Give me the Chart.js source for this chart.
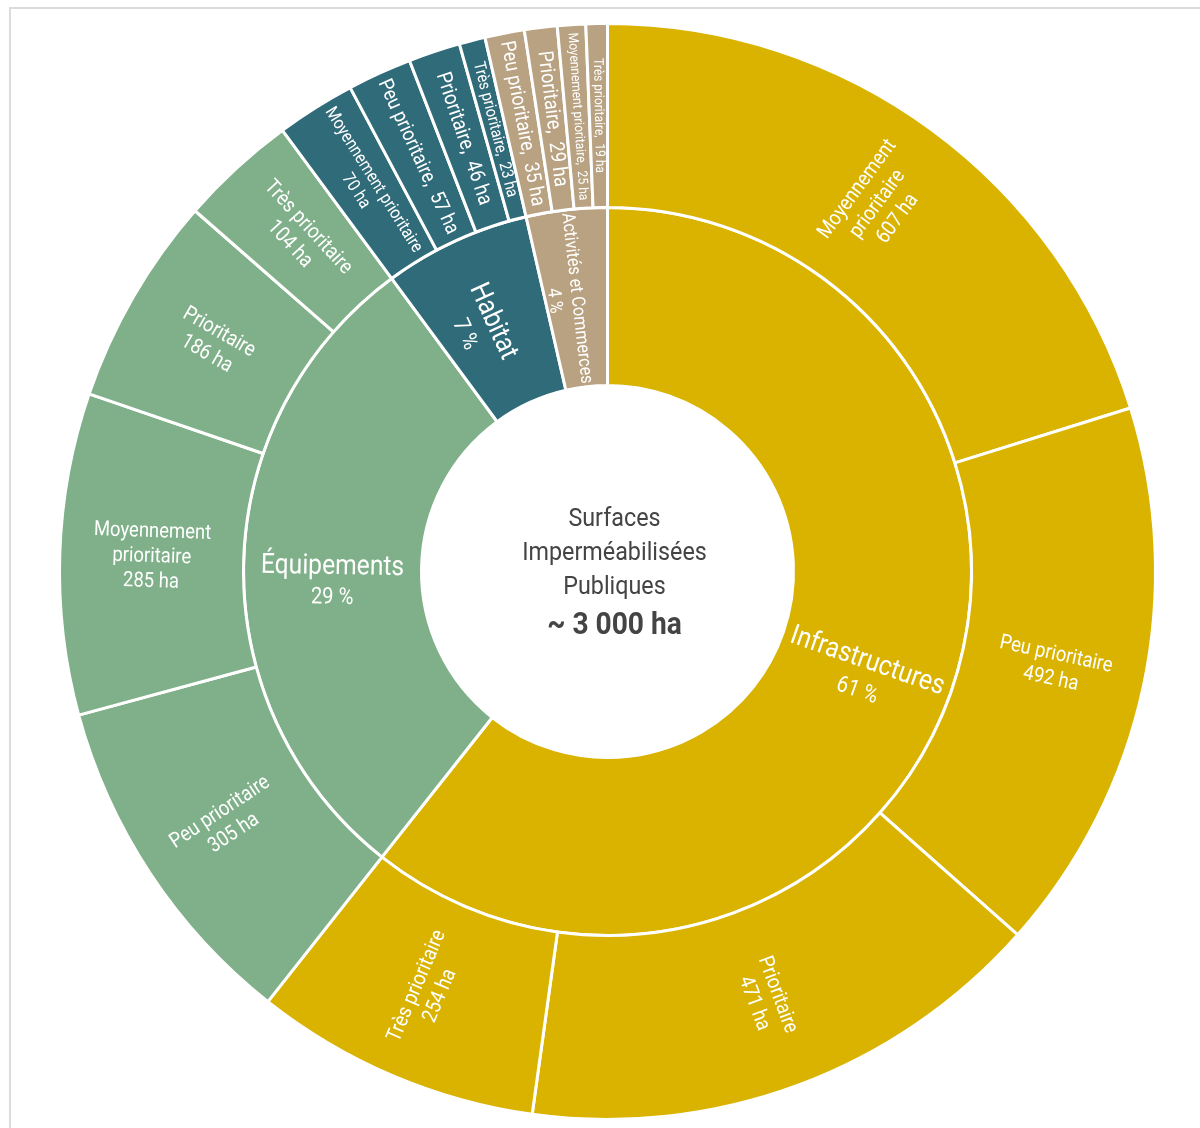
<!DOCTYPE html>
<html lang="fr">
<head>
<meta charset="utf-8">
<title>Surfaces imperméabilisées publiques</title>
<script src="https://cdn.jsdelivr.net/npm/chart.js@4.4.1/dist/chart.umd.min.js"></script>
<style>
  html, body { margin: 0; padding: 0; background: #fff; overflow: hidden; }
  #cadre { position: absolute; left: 9px; top: 7px; width: 1400px; height: 1400px;
           border-left: 2px solid #dcdcdc; border-top: 2px solid #dcdcdc; }
  #chart-surfaces { position: absolute; left: 0; top: 0; }
</style>
</head>
<body>
<div id="cadre"></div>
<canvas id="chart-surfaces" width="1200" height="1128"></canvas>
<script>
// Anneau intérieur : grandes familles (ha)
const categories = ['Infrastructures', 'Équipements', 'Habitat', 'Activités et Commerces'];
const categoryValues = [1824, 880, 196, 108];
const categoryColors = ['#D9B300', '#7FB089', '#306B7A', '#B8A282'];

// Anneau extérieur : niveaux de priorité (ha), dans l'ordre des familles
const subCategory = [0, 0, 0, 0, 1, 1, 1, 1, 2, 2, 2, 2, 3, 3, 3, 3];
const subLabels = [
  'Moyennement prioritaire', 'Peu prioritaire', 'Prioritaire', 'Très prioritaire',
  'Peu prioritaire', 'Moyennement prioritaire', 'Prioritaire', 'Très prioritaire',
  'Moyennement prioritaire', 'Peu prioritaire', 'Prioritaire', 'Très prioritaire',
  'Peu prioritaire', 'Prioritaire', 'Moyennement prioritaire', 'Très prioritaire'
];
const subValues = [607, 492, 471, 254, 305, 285, 186, 104, 70, 57, 46, 23, 35, 29, 25, 19];

const centerLines = ['Surfaces', 'Imperméabilisées', 'Publiques'];
const centerTotal = '~ 3 000 ha';

const FONT = 'Roboto, "Noto Sans", sans-serif';
const SERRE = 0.88; // police condensée simulée

function largeur(ctx, txt, taille, gras) {
  ctx.font = (gras ? 'bold ' : '') + taille + 'px ' + FONT;
  return ctx.measureText(txt).width * SERRE;
}

// Dessine des lignes tournées de "angle" ; chaque ligne a son décalage (dy) depuis (x, y)
function dessinerLignes(ctx, x, y, angle, lignes) {
  ctx.save();
  ctx.translate(x, y);
  ctx.rotate(angle);
  ctx.scale(SERRE, 1);
  ctx.fillStyle = '#fff';
  ctx.textAlign = 'center';
  ctx.textBaseline = 'middle';
  lignes.forEach(l => {
    ctx.font = l.taille + 'px ' + FONT;
    ctx.fillText(l.texte, 0, l.dy);
  });
  ctx.restore();
}

// bloc centré verticalement
function empiler(lignes) {
  const hauteurs = lignes.map(l => l.taille * 1.19);
  let yy = -hauteurs.reduce((a, b) => a + b, 0) / 2;
  return lignes.map((l, i) => {
    const dy = yy + hauteurs[i] / 2;
    yy += hauteurs[i];
    return { ...l, dy };
  });
}

// Choix des lignes pour un secteur extérieur
function lignesSecteur(ctx, nom, valeur, arcPx, epaisseur) {
  const dispo = epaisseur - 16;
  const base = 21;
  const val = valeur + ' ha';
  if (arcPx >= 60) {
    let lignes = [nom, val];
    if (arcPx >= 100 && largeur(ctx, nom, base) > dispo) lignes = nom.split(' ').concat(val);
    const taille = Math.min(base, ...lignes.map(t => base * dispo / largeur(ctx, t, base)));
    return empiler(lignes.map(t => ({ texte: t, taille })));
  }
  const t = nom + ',  ' + val;
  const taille = Math.min(base, base * dispo / largeur(ctx, t, base), arcPx * 0.75);
  return [{ texte: t, taille, dy: 0 }];
}

function angleLecture(a) {
  return Math.cos(a) < 0 ? a + Math.PI : a;
}

const etiquettes = {
  id: 'etiquettes',
  afterDatasetsDraw(chart) {
    const ctx = chart.ctx;
    const total = categoryValues.reduce((a, b) => a + b, 0);

    // anneau extérieur
    chart.getDatasetMeta(0).data.forEach((arc, i) => {
      const p = arc.getProps(['x', 'y', 'startAngle', 'endAngle', 'innerRadius', 'outerRadius'], true);
      const mid = (p.startAngle + p.endAngle) / 2;
      const r = (p.innerRadius + p.outerRadius) / 2;
      const arcPx = (p.endAngle - p.startAngle) * r;
      const lignes = lignesSecteur(ctx, subLabels[i], subValues[i], arcPx, p.outerRadius - p.innerRadius);
      dessinerLignes(ctx, p.x + Math.cos(mid) * r, p.y + Math.sin(mid) * r, angleLecture(mid), lignes);
    });

    // anneau intérieur : nom centré sur le secteur, pourcentage en dessous
    chart.getDatasetMeta(1).data.forEach((arc, i) => {
      const p = arc.getProps(['x', 'y', 'startAngle', 'endAngle', 'innerRadius', 'outerRadius'], true);
      const mid = (p.startAngle + p.endAngle) / 2;
      const r = (p.innerRadius + p.outerRadius) / 2;
      const arcPx = (p.endAngle - p.startAngle) * r;
      const dispo = p.outerRadius - p.innerRadius - 6;
      const tNom = Math.min(28, 28 * dispo / largeur(ctx, categories[i], 28));
      const tPct = Math.min(23, arcPx * 0.3);
      const pct = Math.round(categoryValues[i] / total * 100) + ' %';
      const lignes = [
        { texte: categories[i], taille: tNom, dy: 0 },
        { texte: pct, taille: tPct, dy: 0.6 * tNom + 0.62 * tPct }
      ];
      dessinerLignes(ctx, p.x + Math.cos(mid) * r, p.y + Math.sin(mid) * r, angleLecture(mid), lignes);
    });
  },
  afterDraw(chart) {
    const ctx = chart.ctx;
    const arc = chart.getDatasetMeta(1).data[0];
    const cx = arc.x + 7;
    const cy = arc.y;
    ctx.save();
    ctx.fillStyle = '#444';
    ctx.textAlign = 'center';
    ctx.textBaseline = 'alphabetic';
    const ys = [-46, -11.5, 22.5];
    centerLines.forEach((t, i) => {
      ctx.save();
      ctx.translate(cx, cy + ys[i]);
      ctx.scale(SERRE, 1);
      ctx.font = '26.5px ' + FONT;
      ctx.fillText(t, 0, 0);
      ctx.restore();
    });
    ctx.translate(cx, cy + 62.5);
    ctx.scale(SERRE, 1);
    ctx.font = 'bold 32px ' + FONT;
    ctx.fillText(centerTotal, 0, 0);
    ctx.restore();
  }
};

const chartSurfaces = new Chart(document.getElementById('chart-surfaces').getContext('2d'), {
  type: 'doughnut',
  data: {
    labels: subLabels,
    datasets: [
      {
        data: subValues,
        backgroundColor: subCategory.map(c => categoryColors[c]),
        borderColor: '#fff',
        borderWidth: 3,
        weight: 184
      },
      {
        data: categoryValues,
        backgroundColor: categoryColors,
        borderColor: '#fff',
        borderWidth: 3,
        weight: 178
      }
    ]
  },
  options: {
    responsive: false,
    animation: false,
    events: [],
    cutout: 186,
    layout: { padding: { left: 58, right: 43, top: 22, bottom: 7 } },
    plugins: {
      legend: { display: false },
      tooltip: { enabled: false }
    }
  },
  plugins: [etiquettes]
});
</script>
</body>
</html>
